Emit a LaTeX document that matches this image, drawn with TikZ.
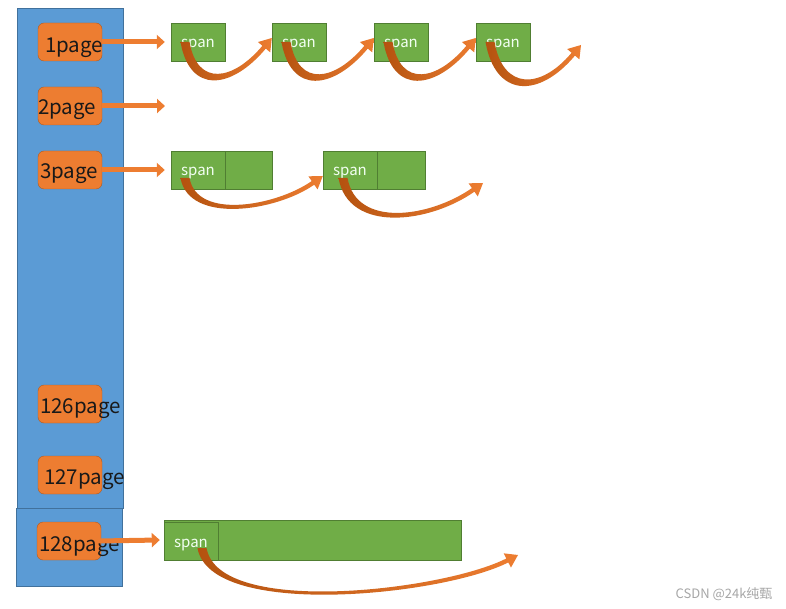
\documentclass[tikz,border=0pt]{standalone}
\usepackage{fontspec}
\setmainfont{Noto Sans CJK SC}
\usetikzlibrary{arrows.meta,calc}

\definecolor{colblue}{HTML}{5B9BD5}
\definecolor{colline}{HTML}{41719C}
\definecolor{pageorange}{HTML}{ED7D31}
\definecolor{pageline}{HTML}{AE5A21}
\definecolor{spangreen}{HTML}{70AD47}
\definecolor{spanline}{HTML}{507E32}
\definecolor{curvdark}{HTML}{B4520F}

% looseness, tip angle, start, tip
\newcommand{\bentarrow}[4]{%
  \pgfmathsetmacro\backang{#2+180}
  \shade[left color=curvdark, right color=pageorange]
    ($(#3)+(-4.5,0)$) to[out=-80, in=\backang, looseness=#1] ($(#4)+(\backang:12)+(#2-90:2.2)$)
    -- ($(#4)+(\backang:12)+(#2-90:8)$) -- (#4) -- ($(#4)+(\backang:12)+(#2+90:8)$)
    -- ($(#4)+(\backang:12)+(#2+90:2.2)$) to[out=\backang, in=-80, looseness=#1] ($(#3)+(4.5,0)$)
    -- cycle;}

\begin{document}
\begin{tikzpicture}[
    x=1pt, y=1pt,
    pagebox/.style={draw=pageline, fill=pageorange, rounded corners=6pt,
                    minimum width=64pt, minimum height=38pt, inner sep=0pt},
    pagetext/.style={anchor=west, inner sep=0pt, font=\fontsize{20.5}{22}\selectfont,
                     text=black!90},
    spanbox/.style={draw=spanline, fill=spangreen, minimum width=54pt,
                    minimum height=38pt, inner sep=0pt, text=white!95!green,
                    text height=12pt, text depth=0pt,
                    font=\fontsize{15}{16}\selectfont},
    cellbox/.style={draw=spanline, fill=spangreen, minimum height=38pt, inner sep=0pt},
    flat/.style={pageorange, line width=5pt, -{Triangle[length=8pt,width=14pt]}}
  ]
  \useasboundingbox (0,0) rectangle (786,608);
  \filldraw[fill=colblue, draw=colline] (17,100) rectangle (123,600);
  \filldraw[fill=colblue, draw=colline] (16,22) rectangle (122,100);

  \node[pagebox, label={[pagetext, xshift=7pt, yshift=-6pt]west:1page}] (p1) at (70,566) {};
  \node[pagebox, label={[pagetext, yshift=-4pt]west:2page}] (p2) at (70,502) {};
  \node[pagebox, label={[pagetext, xshift=2pt, yshift=-4pt]west:3page}] (p3) at (70,438) {};
  \node[pagebox, label={[pagetext, xshift=2pt, yshift=-5pt]west:126page}] (p126) at (70,204) {};
  \node[pagebox, label={[pagetext, xshift=6pt, yshift=-5pt]west:127page}] (p127) at (70,133) {};
  \node[pagebox, label={[pagetext, xshift=2pt, yshift=-6pt]west:128page}] (p128) at (69,67) {};

  \node[spanbox] (sp11) at (198,566) {span};
  \node[spanbox] (sp12) at (299,566) {span};
  \node[spanbox] (sp13) at (401,566) {span};
  \node[spanbox] (sp14) at (503,566) {span};

  \node[spanbox] (sp31) at (198,438) {span};
  \node[cellbox, minimum width=47pt, anchor=west] (ex31) at (sp31.east) {};
  \node[spanbox] (sp32) at (350,438) {span};
  \node[cellbox, minimum width=48pt, anchor=west] (ex32) at (sp32.east) {};

  \node[cellbox, minimum width=297pt, minimum height=40pt] (bar) at (312.5,68) {};
  \node[spanbox] (sp128) at (191,67) {span};

  \coordinate (free2) at (165,502);
  \coordinate (end1) at (581,563);
  \coordinate (end3) at (483,425);
  \coordinate (end128) at (518,53);

  \draw[flat] (p1.east) -- ([xshift=-6pt]sp11.west);
  \draw[flat] (p2.east) -- (free2);
  \draw[flat] (p3.east) -- ([xshift=-6pt]sp31.west);
  \draw[flat] ([xshift=-3pt]p128.east) -- ([xshift=-4pt]bar.west);

  \bentarrow{1.6}{50}{[xshift=-13pt]sp11.center}{[yshift=4pt]sp12.west}
  \bentarrow{1.6}{50}{[xshift=-13pt]sp12.center}{[yshift=4pt]sp13.west}
  \bentarrow{1.6}{50}{[xshift=-13pt]sp13.center}{[yshift=4pt]sp14.west}
  \bentarrow{1.6}{50}{[xshift=-13pt]sp14.center}{end1}
  \bentarrow{0.9}{35}{[xshift=-13pt,yshift=-8pt]sp31.center}{[yshift=-6pt]sp32.west}
  \bentarrow{1.05}{35}{[xshift=-7pt,yshift=-8pt]sp32.center}{end3}
  \bentarrow{0.6}{27}{[xshift=11pt,yshift=-7pt]sp128.center}{end128}

  \node[anchor=east, text=black!35, font=\fontsize{13}{15}\selectfont] (mark) at (776,14) {CSDN @24k纯甄};
\end{tikzpicture}
\end{document}
